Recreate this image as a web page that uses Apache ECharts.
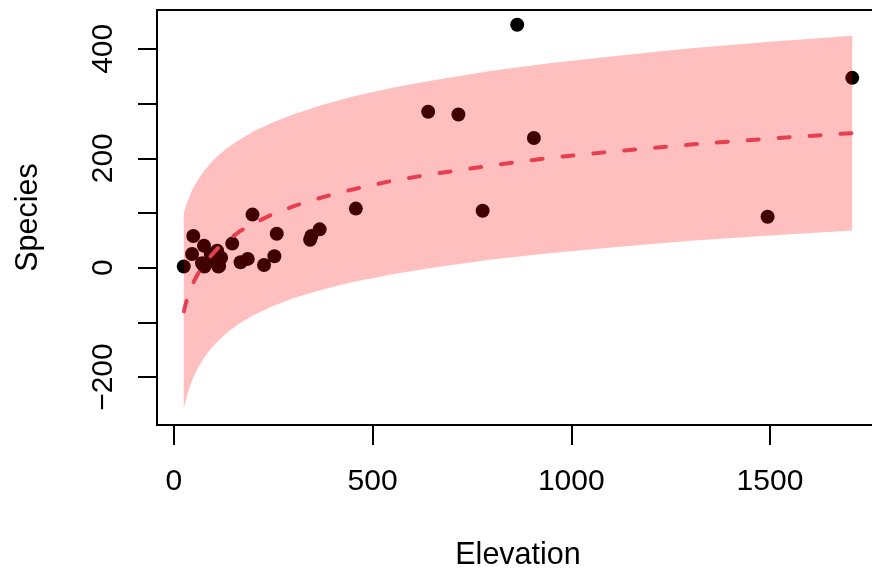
<!DOCTYPE html>
<html>
<head>
<meta charset="utf-8">
<script src="https://cdn.jsdelivr.net/npm/echarts@6/dist/echarts.min.js"></script>
<style>
html,body{margin:0;padding:0;background:#fff;}
#chart{width:872px;height:575px;}
</style>
</head>
<body>
<div id="chart"></div>
<script>
// Observed islands: elevation vs number of species
var elevation = [346,109,114,46,77,119,93,168,71,112,198,1494,49,227,76,1707,343,25,777,458,94,367,716,906,864,259,640,147,186,253];
var species   = [58,31,3,25,2,18,24,10,8,2,97,93,58,5,40,347,51,2,104,108,12,70,280,237,444,62,285,44,16,21];

// Fitted curve and prediction band
var fitX      = [25,27,30,35,40,45,50,60,75,90,110,135,165,200,250,300,375,450,550,650,800,950,1100,1300,1500,1707];
var fitY      = [-80,-74,-66,-54,-43,-34,-26,-12,5,19,35,50,66,81,98,112,129,143,159,171,187,201,212,225,236,246];
var bandUpper = [99,104,112,122,131,140,147,160,176,189,204,219,234,249,266,280,298,313,329,342,360,374,386,401,413,424];
var bandLower = [-258,-252,-243,-229,-218,-208,-199,-184,-166,-151,-135,-118,-102,-87,-70,-56,-40,-26,-12,0,15,27,37,49,59,68];

// Axis ticks
var xTicks = [0,500,1000,1500];
var yTicks = [-200,-100,0,100,200,300,400];
var yLabels = [-200,0,200,400];

var FONT = 'Liberation Sans, Arial, Helvetica, sans-serif';

var chart = echarts.init(document.getElementById('chart'), null, {renderer:'canvas'});

var points = elevation.map(function(e,i){return [e, species[i]];});
var fitData = fitX.map(function(x,i){return [x, fitY[i]];});
var bandData = fitX.map(function(x,i){return [x, bandUpper[i], bandLower[i]];});

chart.setOption({
  animation:false,
  backgroundColor:'#fff',
  grid:{left:157, top:10, width:722, height:415, outerBoundsMode:'none', containLabel:false,
        show:true, borderColor:'#000', borderWidth:2, backgroundColor:'transparent'},
  xAxis:{
    type:'value', min:-42.3, max:1774.3,
    name:'Elevation', nameLocation:'middle', nameGap:115,
    nameTextStyle:{fontFamily:FONT, fontSize:30.5, color:'#000'},
    axisLine:{show:false, onZero:false},
    splitLine:{show:false},
    axisTick:{show:true, customValues:xTicks, length:20, lineStyle:{color:'#000', width:2}},
    axisLabel:{customValues:xTicks, fontFamily:FONT, fontSize:30, color:'#000', margin:42,
      formatter:function(v){return String(v);}}
  },
  yAxis:{
    type:'value', min:-287.6, max:471,
    name:'Species', nameLocation:'middle', nameGap:113, nameRotate:90,
    nameTextStyle:{fontFamily:FONT, fontSize:30.5, color:'#000'},
    axisLine:{show:false, onZero:false},
    splitLine:{show:false},
    axisTick:{show:true, customValues:yTicks, length:19, lineStyle:{color:'#000', width:2}},
    axisLabel:{customValues:yLabels, rotate:90, fontFamily:FONT, fontSize:30, color:'#000', margin:38,
      formatter:function(v){return v<0 ? '\u2212'+Math.abs(v) : String(v);}}
  },
  series:[
    {
      type:'scatter', data:points, symbol:'circle', symbolSize:14,
      itemStyle:{color:'#000', opacity:1}, z:2
    },
    {
      type:'line', data:fitData, showSymbol:false, smooth:false, z:3,
      lineStyle:{color:'#DF536B', width:4, type:[11,20], cap:'round'}
    },
    {
      type:'custom', data:bandData, z:4,
      encode:{x:0, y:[1,2]},
      renderItem:function(params, api){
        if(params.dataIndex !== 0) return null;
        var pts = [];
        for(var i=0;i<fitX.length;i++) pts.push(api.coord([fitX[i], bandUpper[i]]));
        for(var j=fitX.length-1;j>=0;j--) pts.push(api.coord([fitX[j], bandLower[j]]));
        return {type:'polygon', shape:{points:pts}, style:{fill:'rgba(255,0,0,0.25)', stroke:null}};
      }
    }
  ]
});
</script>
</body>
</html>
